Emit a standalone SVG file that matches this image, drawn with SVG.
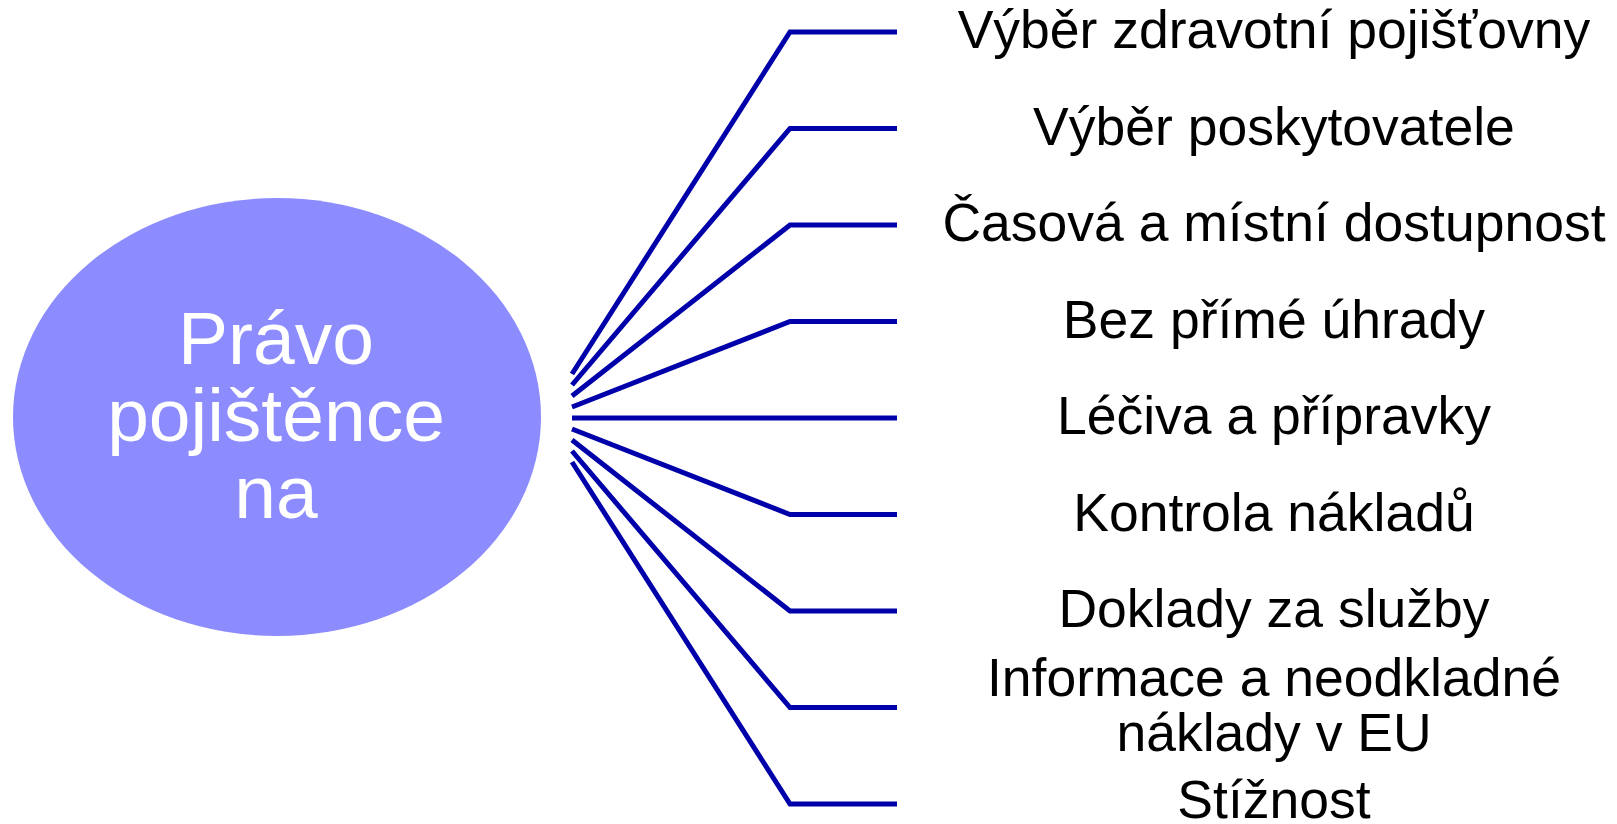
<svg xmlns="http://www.w3.org/2000/svg" width="1617" height="824" viewBox="0 0 1617 824">
<style>
.lbl{font-family:"Liberation Sans",Arial,sans-serif;font-size:53.5px;fill:#000;text-anchor:middle}
.ctr{font-family:"Liberation Sans",Arial,sans-serif;font-size:75px;fill:#fff;text-anchor:middle}
.con{fill:none;stroke:#0000AA;stroke-width:5}
</style>
<rect width="1617" height="824" fill="#fff"/>
<g id="center">
<ellipse cx="277" cy="417" rx="264" ry="219" fill="#8C8CFF"/>
<text class="ctr" x="276"><tspan x="276" y="364">Právo</tspan><tspan x="276" y="441">pojištěnce</tspan><tspan x="276" y="518">na</tspan></text>
</g>
<g id="connectors">
<polyline class="con" points="572,374 790,32 897,32"/>
<polyline class="con" points="572,385 790,128.5 897,128.5"/>
<polyline class="con" points="572,396 790,225 897,225"/>
<polyline class="con" points="572,407 790,321.5 897,321.5"/>
<polyline class="con" points="572,418 790,418 897,418"/>
<polyline class="con" points="572,429 790,514.5 897,514.5"/>
<polyline class="con" points="572,440 790,611 897,611"/>
<polyline class="con" points="572,451 790,707.5 897,707.5"/>
<polyline class="con" points="572,462 790,804 897,804"/>
</g>
<g id="n1"><text class="lbl" x="1274" y="48">Výběr zdravotní pojišťovny</text></g>
<g id="n2"><text class="lbl" x="1274" y="144.5">Výběr poskytovatele</text></g>
<g id="n3"><text class="lbl" x="1274" y="241">Časová a místní dostupnost</text></g>
<g id="n4"><text class="lbl" x="1274" y="337.5">Bez přímé úhrady</text></g>
<g id="n5"><text class="lbl" x="1274" y="434">Léčiva a přípravky</text></g>
<g id="n6"><text class="lbl" x="1274" y="530.5">Kontrola nákladů</text></g>
<g id="n7"><text class="lbl" x="1274" y="627">Doklady za služby</text></g>
<g id="n8"><text class="lbl"><tspan x="1274" y="696">Informace a neodkladné</tspan><tspan x="1274" y="751">náklady v EU</tspan></text></g>
<g id="n9"><text class="lbl" x="1274" y="818">Stížnost</text></g>
</svg>
